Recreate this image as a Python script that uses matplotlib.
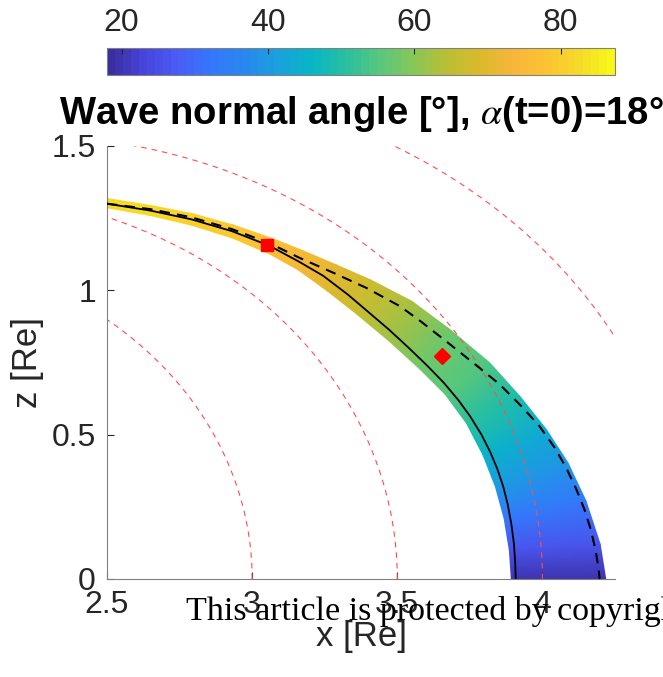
import numpy as np
import matplotlib.pyplot as plt
from matplotlib.colors import LinearSegmentedColormap

plt.rcParams['font.family'] = ['Liberation Sans', 'DejaVu Sans']
plt.rcParams['mathtext.fontset'] = 'stix'

# parula-like colour ramp, matched by eye to the colour bar
parula = LinearSegmentedColormap.from_list('parula', [
    (0.23, 0.18, 0.63), (0.28, 0.27, 0.86), (0.29, 0.36, 0.96),
    (0.21, 0.47, 0.99), (0.16, 0.53, 0.94), (0.10, 0.63, 0.87),
    (0.03, 0.71, 0.78), (0.15, 0.75, 0.63), (0.33, 0.78, 0.50),
    (0.52, 0.78, 0.35), (0.71, 0.75, 0.22), (0.85, 0.73, 0.17),
    (0.96, 0.71, 0.23), (0.99, 0.76, 0.20), (0.96, 0.85, 0.16),
    (0.97, 0.97, 0.10)]).resampled(64)
angle_min, angle_max = 18, 87.4

# dipole field lines (red dashed)
L_shells = [3.0, 3.5, 4.0, 4.5]

# spread of rays: inner and outer edge of the coloured band [Re]
inner_x = [2.500, 2.650, 2.790, 2.930, 3.060, 3.160, 3.260, 3.360, 3.470,
           3.577, 3.665, 3.738, 3.795, 3.838, 3.868, 3.886, 3.893]
inner_z = [1.286, 1.259, 1.226, 1.182, 1.126, 1.070, 0.997, 0.918, 0.826,
           0.728, 0.640, 0.540, 0.430, 0.320, 0.210, 0.100, 0.000]
outer_x = [2.500, 2.650, 2.792, 2.935, 3.068, 3.175, 3.290, 3.410, 3.550,
           3.680, 3.818, 3.922, 4.014, 4.088, 4.150, 4.199, 4.218]
outer_z = [1.318, 1.294, 1.266, 1.226, 1.180, 1.137, 1.088, 1.035, 0.962,
           0.865, 0.749, 0.633, 0.517, 0.402, 0.270, 0.120, 0.000]
# wave normal angle [deg] along those edges
angle_inner = [83, 82, 80, 79, 77, 74, 70, 66, 62, 58, 55, 51, 46, 40, 33, 26, 20]
angle_outer = [83, 82, 81, 79, 77, 75, 71, 67, 63, 58, 54, 49, 44, 39, 33, 26, 20]

# central ray (solid) and second ray (dashed)
ray_x = [2.500, 2.650, 2.790, 2.930, 3.060, 3.160, 3.245, 3.330, 3.400, 3.470, 3.540, 3.600,
         3.660, 3.710, 3.750, 3.790, 3.820, 3.845, 3.865, 3.880, 3.893, 3.902, 3.906, 3.908]
ray_z = [1.300, 1.276, 1.246, 1.205, 1.154, 1.100, 1.050, 0.985, 0.925, 0.865, 0.800, 0.742,
         0.680, 0.620, 0.565, 0.500, 0.440, 0.380, 0.320, 0.260, 0.190, 0.120, 0.060, 0.000]
ray2_x = [2.500, 2.650, 2.790, 2.930, 3.060, 3.164, 3.279, 3.394, 3.509, 3.580, 3.670, 3.760,
          3.853, 3.928, 3.990, 4.042, 4.082, 4.117, 4.145, 4.167, 4.183, 4.193, 4.197]
ray2_z = [1.300, 1.281, 1.253, 1.212, 1.163, 1.112, 1.061, 1.008, 0.945, 0.893, 0.822, 0.750,
          0.674, 0.598, 0.529, 0.455, 0.385, 0.310, 0.240, 0.170, 0.100, 0.040, 0.000]

# markers
square_xz = (3.05, 1.156)
diamond_xz = (3.654, 0.772)

fig = plt.figure(figsize=(6.63, 6.77), dpi=100)
ax = fig.add_axes([0.1614, 0.1448, 0.7662, 0.6396])
cax = fig.add_axes([0.1614, 0.8892, 0.7662, 0.0399])

X = np.column_stack([inner_x, outer_x])
Z = np.column_stack([inner_z, outer_z])
C = np.column_stack([angle_inner, angle_outer])
ax.pcolormesh(X, Z, C, shading='gouraud', cmap=parula, vmin=angle_min, vmax=angle_max, zorder=1)
ax.scatter([ray_x[0]], [ray_z[0] + 0.002], c=[angle_inner[0]], s=55, cmap=parula,
           vmin=angle_min, vmax=angle_max, edgecolors='none', zorder=1)

lat = np.radians(np.linspace(0, 60, 300))
for L in L_shells:
    r = L * np.cos(lat) ** 2
    ax.plot(r * np.cos(lat), r * np.sin(lat), color='#ff4d4d', lw=0.8,
            ls=(0, (5, 4.5)), zorder=2)

ax.plot(ray_x, ray_z, color='k', lw=1.3, zorder=3)
ax.plot(ray2_x, ray2_z, color='k', lw=1.5, ls=(0, (5, 3.5)), zorder=3)
ax.plot(*square_xz, marker='s', ms=8.5, color='red', mec='red', zorder=4)
ax.plot(*diamond_xz, marker='D', ms=8, color='red', mec='red', zorder=4)

ax.set_xlim(2.5, 4.25)
ax.set_ylim(0, 1.5)
ax.set_xticks([2.5, 3, 3.5, 4])
ax.set_xticklabels(['2.5', '3', '3.5', '4'])
ax.set_yticks([0, 0.5, 1, 1.5])
ax.set_yticklabels(['0', '0.5', '1', '1.5'])
for side in ['top', 'right']:
    ax.spines[side].set_visible(False)
for side in ['left', 'bottom']:
    ax.spines[side].set_color('#808080')
    ax.spines[side].set_linewidth(0.8)
ax.tick_params(direction='in', length=5, width=0.8, color='#262626',
               labelsize=23, labelcolor='#262626', pad=8)
ax.set_xlabel('x [Re]', fontsize=25, color='#262626')
ax.set_ylabel('z [Re]', fontsize=25, color='#262626')
ax.xaxis.set_label_coords(0.5, -0.095)
ax.yaxis.set_label_coords(-0.125, 0.5)
ax.set_title(r'Wave normal angle [°], $\alpha$(t=0)=18°', fontsize=27.5,
             fontweight='bold', pad=16)

sm = plt.cm.ScalarMappable(cmap=parula, norm=plt.Normalize(angle_min, angle_max))
cb = fig.colorbar(sm, cax=cax, orientation='horizontal', ticklocation='top')
cb.set_ticks([20, 40, 60, 80])
cb.ax.tick_params(direction='in', length=4, width=0.8, color='#262626',
                  labelsize=23, labelcolor='#262626', pad=7)
cb.outline.set_edgecolor('#808080')
cb.outline.set_linewidth(0.8)

fig.text(186 / 663, 1 - 620 / 677, 'This article is protected by copyright.',
         family='Liberation Serif', fontsize=24.5, color='black', va='baseline')

fig.savefig('out.png', dpi=100)
